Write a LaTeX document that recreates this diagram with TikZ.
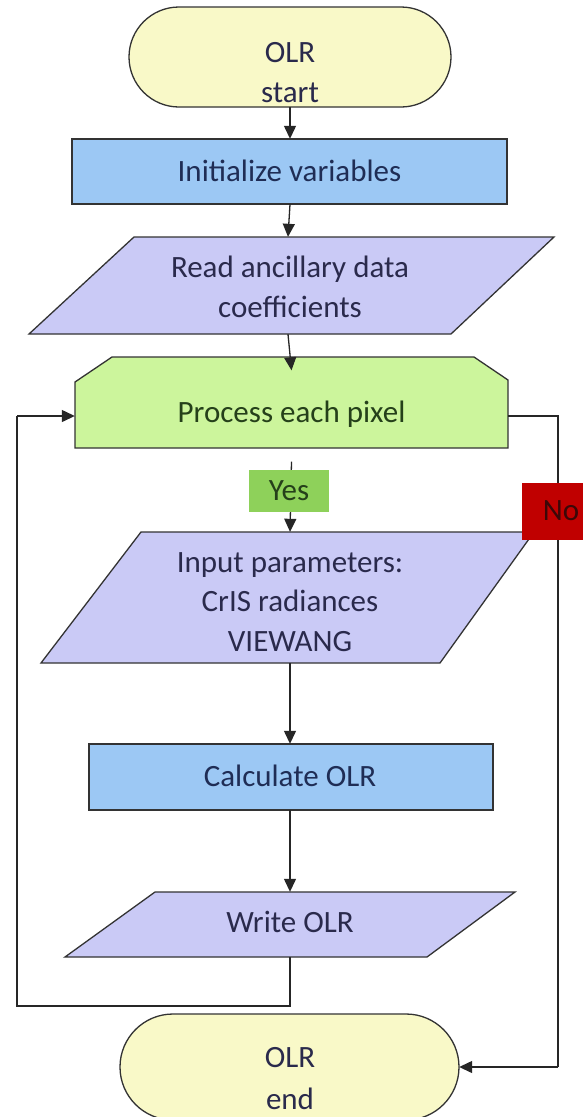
\documentclass[tikz,border=0pt]{standalone}
\usepackage{fontspec}
\setmainfont{Carlito}
\usetikzlibrary{arrows.meta}
\definecolor{ovalfill}{HTML}{F9F9C8}
\definecolor{bluefill}{HTML}{9CC8F4}
\definecolor{lavfill}{HTML}{CACAF6}
\definecolor{greenfill}{HTML}{CCF59C}
\definecolor{yesfill}{HTML}{8ED15A}
\definecolor{nofill}{HTML}{C00000}
\definecolor{edge}{HTML}{333333}
\definecolor{navytext}{HTML}{1F2D55}
\definecolor{lavtext}{HTML}{2A2A4C}
\definecolor{greentext}{HTML}{25401A}
\definecolor{notext}{HTML}{3B0808}
\tikzset{
  x=1pt, y=-1pt,
  shapeline/.style={draw=edge, line width=1.3pt},
  conn/.style={draw=black!85, line width=1.3pt},
  arr/.style={conn, -{Triangle[length=13pt,width=12pt]}},
  txt/.style={inner sep=0pt, align=center, font=\fontsize{31}{39.5}\selectfont},
  area/.style={inner sep=0pt, draw=none},
}
\begin{document}
\begin{tikzpicture}
\useasboundingbox[fill=white] (0,0) rectangle (583,1117);

% ---- shapes ----
% start terminal
\draw[shapeline, fill=ovalfill, rounded corners=50pt] (129,7) rectangle (451,107);
\node[area, minimum width=322pt, minimum height=100pt] (start) at (290,57) {};
\node[txt, text=lavtext] (startA) at (290,53) {OLR};
\node[txt, text=lavtext] (startB) at (290,93) {start};

% initialize
\draw[shapeline, fill=bluefill] (72,139) rectangle (507,204);
\node[area, minimum width=435pt, minimum height=65pt] (init) at (290,171.5) {};
\node[txt, text=navytext] (initT) at (289.5,171) {Initialize variables};

% read ancillary
\draw[shapeline, fill=lavfill] (134,237) -- (554,237) -- (451,334) -- (29,334) -- cycle;
\node[area, minimum width=300pt, minimum height=97pt] (read) at (288,285.5) {};
\node[txt, text=lavtext] (readT) at (290,287) {Read ancillary data\\coefficients};

% process each pixel
\draw[shapeline, fill=greenfill] (75,382) -- (112,357) -- (474,357) -- (508,380) -- (508,448) -- (75,448) -- cycle;
\node[area, minimum width=433pt, minimum height=91pt] (proc) at (291.5,416) {};
\node[txt, text=greentext] (procT) at (291.5,414) {Process each pixel};

% input parameters
\draw[shapeline, fill=lavfill] (141,532) -- (534,532) -- (440,663) -- (41,663) -- cycle;
\node[area, minimum width=300pt, minimum height=131pt] (input) at (290,597.5) {};
\node[txt, text=lavtext] (inputT) at (290,602) {Input parameters:\\CrIS radiances\\VIEWANG};

% calculate OLR
\draw[shapeline, fill=bluefill] (89,744) rectangle (493,810);
\node[area, minimum width=404pt, minimum height=66pt] (calc) at (290,777) {};
\node[txt, text=navytext] (calcT) at (290,776) {Calculate OLR};

% write OLR
\draw[shapeline, fill=lavfill] (155,892) -- (515,892) -- (427,957) -- (65,957) -- cycle;
\node[area, minimum width=300pt, minimum height=65pt] (write) at (290,924.5) {};
\node[txt, text=lavtext] (writeT) at (290,922) {Write OLR};

% end terminal
\draw[shapeline, fill=ovalfill, rounded corners=53pt] (120,1014) rectangle (459,1120);
\node[area, minimum width=339pt, minimum height=106pt] (end) at (289.5,1067) {};
\node[txt, text=lavtext] (endA) at (290,1058) {OLR};
\node[txt, text=lavtext] (endB) at (290,1099) {end};

% ---- connectors ----
\coordinate (loopBL) at (17,1006);
\coordinate (loopTL) at (17,416);
\coordinate (rightTop) at (558,416);
\coordinate (rightBot) at (558,1067);

\draw[arr] (start.south) -- (init.north);
\draw[arr] (init.south) -- (read.north);
\draw[arr] (read.south) -- (proc.north);
\draw[arr] (proc.south) -- (input.north);
\draw[arr] (input.south) -- (calc.north);
\draw[arr] (calc.south) -- (write.north);
\draw[conn] (write.south) |- (loopBL) -- (loopTL);
\draw[arr] (loopTL) -- (proc.west);
\draw[conn] (proc.east) -- (rightTop) -- (rightBot);
\draw[arr] (rightBot) -- (end.east);

% ---- labels ----
\node[fill=yesfill, minimum width=80pt, minimum height=42pt, inner sep=0pt,
      font=\fontsize{31}{39.5}\selectfont, text=greentext] (yes) at (289,491) {Yes};
\node[fill=nofill, minimum width=78pt, minimum height=57pt, inner sep=0pt] (no) at (561,511.5) {};
\node[txt, text=notext] (noT) at (561,511) {No};
\end{tikzpicture}
\end{document}
